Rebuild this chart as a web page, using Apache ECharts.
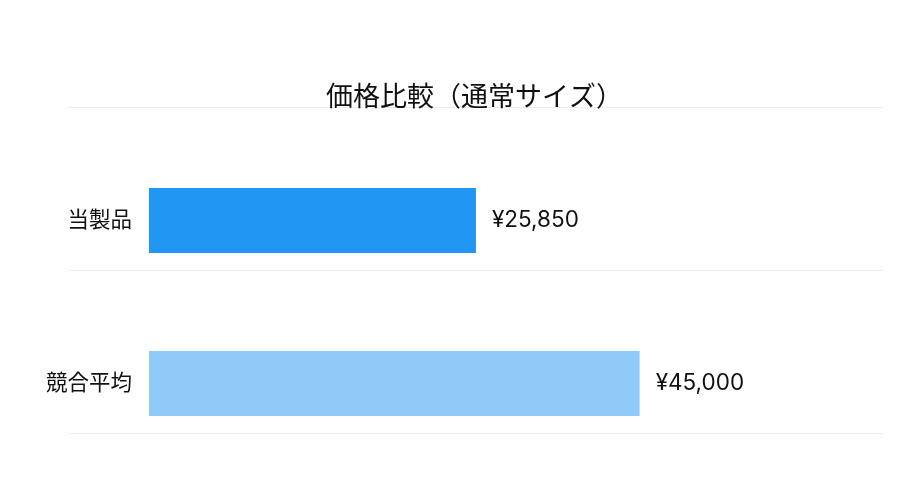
<!DOCTYPE html>
<html>
<head>
<meta charset="utf-8">
<script src="https://cdn.jsdelivr.net/npm/echarts@6/dist/echarts.min.js"></script>
<style>
  html, body { margin: 0; padding: 0; background: #fff; }
  #chart { width: 918px; height: 492px; }
</style>
</head>
<body>
<div id="chart"></div>
<script>
var titleText = '価格比較（通常サイズ）';
var categories = ['当製品', '競合平均'];
var prices = [25850, 45000];
var barColors = ['#2196F3', '#90CAF9'];

var fontFamily = "Inter, 'Noto Sans CJK JP', sans-serif";

var chart = echarts.init(document.getElementById('chart'));

chart.setOption({
    animation: false,
    title: {
        text: titleText,
        left: 321,
        top: 79,
        textStyle: {
            fontFamily: fontFamily,
            fontSize: 27,
            fontWeight: 'normal',
            color: '#111'
        }
    },
    grid: [
        // full-width band lines
        { left: 68, right: 35, top: 107, bottom: 59 },
        // bars
        { left: 149, right: 35, top: 139, bottom: 27 }
    ],
    xAxis: [
        { gridIndex: 0, type: 'value', show: false },
        {
            gridIndex: 1,
            type: 'log',
            min: 8543,
            max: 102600,
            show: false
        }
    ],
    yAxis: [
        {
            gridIndex: 0,
            type: 'category',
            inverse: true,
            data: categories,
            axisLine: { show: false },
            axisTick: { show: false },
            axisLabel: { show: false },
            splitLine: { show: true, lineStyle: { color: '#eeeeee', width: 1 } }
        },
        {
            gridIndex: 1,
            type: 'category',
            inverse: true,
            data: categories,
            axisLine: { show: false },
            axisTick: { show: false },
            splitLine: { show: false },
            axisLabel: {
                margin: 17,
                fontFamily: fontFamily,
                fontSize: 21.5,
                color: '#111'
            }
        }
    ],
    series: [{
        type: 'bar',
        xAxisIndex: 1,
        yAxisIndex: 1,
        barWidth: '40%',
        clip: true,
        data: prices.map(function (v, i) {
            return { value: v, itemStyle: { color: barColors[i] } };
        }),
        label: {
            show: true,
            position: 'right',
            distance: 16,
            fontFamily: fontFamily,
            fontSize: 22.5,
            color: '#111',
            formatter: function (p) {
                return '¥' + p.value.toLocaleString('en-US');
            }
        }
    }]
});
</script>
</body>
</html>
